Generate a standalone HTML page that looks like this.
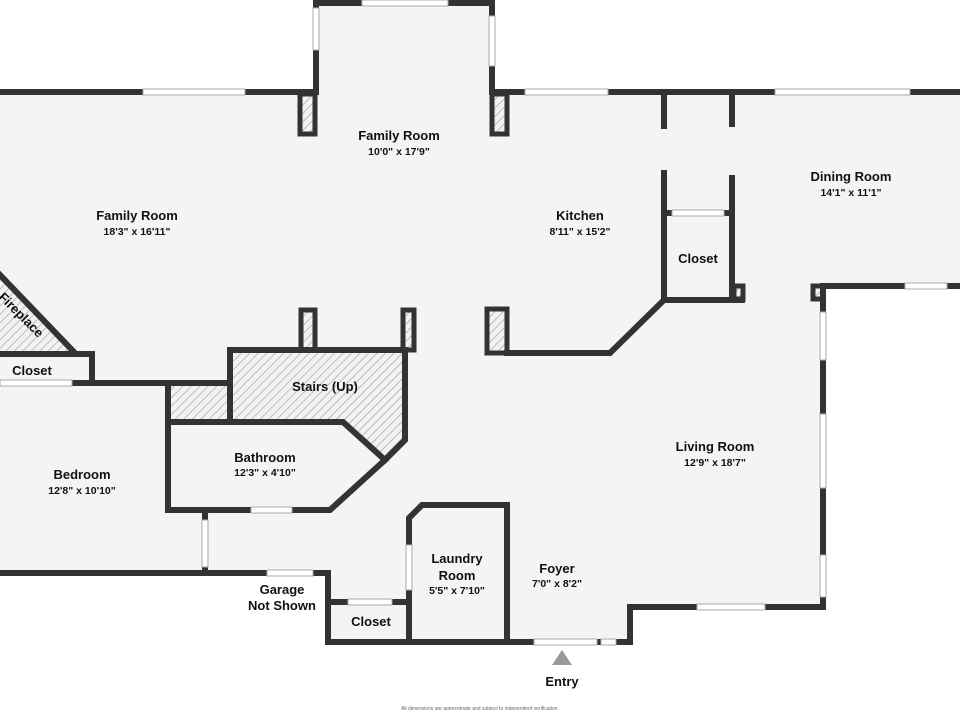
<!DOCTYPE html>
<html><head><style>
html,body{margin:0;padding:0;background:#fff;}
svg{display:block;}
text{font-family:"Liberation Sans","DejaVu Sans",sans-serif;fill:#111;text-anchor:middle;}
.l{font-size:13px;font-weight:bold;}
.d{font-size:10.5px;font-weight:bold;}
</style></head><body>
<svg width="960" height="710" viewBox="0 0 960 710" xmlns="http://www.w3.org/2000/svg">
<defs>
<pattern id="h" width="6" height="6" patternUnits="userSpaceOnUse" patternTransform="rotate(45)">
<rect width="6" height="6" fill="#f2f2f2"/><line x1="0" y1="0" x2="0" y2="6" stroke="#999" stroke-width="1.2"/>
</pattern>
</defs>
<rect width="960" height="710" fill="#fff"/>
<polygon points="0,92 314,92 314,2 494,2 494,92 960,92 960,286 822,286 822,607 630,607 630,642 328,642 328,573 0,573" fill="#f4f4f4"/>
<!-- hatched -->
<polygon points="0,275 74,352 0,352" fill="url(#h)"/>
<polygon points="230,350 405,350 405,440 385,460 343,422 230,422" fill="url(#h)"/>
<rect x="168" y="383" width="62" height="39" fill="url(#h)"/>
<g fill="url(#h)" stroke="#333" stroke-width="5">
<rect x="300" y="94" width="15" height="40"/>
<rect x="492" y="94" width="15" height="40"/>
<rect x="301" y="310" width="14" height="40"/>
<rect x="403" y="310" width="11" height="40"/>
<rect x="487" y="309" width="20" height="44"/>
<rect x="734" y="286" width="9" height="13"/>
<rect x="813" y="286" width="10" height="13"/>
</g>
<g stroke="#333" stroke-width="6" fill="none" stroke-linecap="square" stroke-linejoin="miter">
<!-- top bump -->
<polyline points="316,92 316,3 492,3 492,92"/>
<line x1="0" y1="92" x2="316" y2="92"/>
<line x1="492" y1="92" x2="960" y2="92"/>
<line x1="664" y1="92" x2="664" y2="126"/>
<line x1="732" y1="92" x2="732" y2="124"/>
<!-- closet kitchen -->
<polyline points="664,173 664,300 742,300"/>
<line x1="732" y1="178" x2="732" y2="300"/>
<line x1="664" y1="213" x2="732" y2="213"/>
<polyline points="507,353 610,353 664,300"/>
<!-- dining/living -->
<polyline points="960,286 823,286 823,607 630,607 630,642 328,642 328,573 0,573"/>
<!-- laundry -->
<polyline points="409,642 409,518 422,505 507,505 507,642"/>
<line x1="328" y1="602" x2="409" y2="602"/>
<!-- bedroom/bath -->
<line x1="205" y1="510" x2="205" y2="573"/>
<polyline points="0,354 92,354 92,383"/>
<line x1="72" y1="383" x2="230" y2="383"/>
<polyline points="168,383 168,510 330,510 385,460 343,422 168,422"/>
<polyline points="230,422 230,350 405,350 405,440 385,460"/>
<line x1="0" y1="275" x2="74" y2="352"/>
</g>
<!-- windows -->
<g fill="#fff" stroke="#aaa" stroke-width="1">
<rect x="143" y="89" width="102" height="6"/>
<rect x="362" y="0" width="86" height="6"/>
<rect x="313" y="8" width="6" height="42"/>
<rect x="489" y="16" width="6" height="50"/>
<rect x="525" y="89" width="83" height="6"/>
<rect x="775" y="89" width="135" height="6"/>
<rect x="672" y="210" width="52" height="6"/>
<rect x="905" y="283" width="42" height="6"/>
<rect x="820" y="312" width="6" height="48"/>
<rect x="820" y="414" width="6" height="74"/>
<rect x="820" y="555" width="6" height="42"/>
<rect x="697" y="604" width="68" height="6"/>
<rect x="534" y="639" width="63" height="6"/>
<rect x="601" y="639" width="15" height="6"/>
<rect x="348" y="599" width="44" height="6"/>
<rect x="406" y="545" width="6" height="45"/>
<rect x="267" y="570" width="46" height="6"/>
<rect x="251" y="507" width="41" height="6"/>
<rect x="202" y="520" width="6" height="47"/>
<rect x="0" y="380" width="72" height="6"/>
</g>
<polygon points="562,650 572,665 552,665" fill="#999"/>
<!-- labels -->
<text class="l" x="399" y="140">Family Room</text><text class="d" x="399" y="155">10'0" x 17'9"</text>
<text class="l" x="137" y="220">Family Room</text><text class="d" x="137" y="235">18'3" x 16'11"</text>
<text class="l" x="580" y="220">Kitchen</text><text class="d" x="580" y="235">8'11" x 15'2"</text>
<text class="l" x="851" y="181">Dining Room</text><text class="d" x="851" y="196">14'1" x 11'1"</text>
<text class="l" x="698" y="263">Closet</text>
<text class="l" x="32" y="375">Closet</text>
<text class="l" x="18" y="318" transform="rotate(45 18 318)">Fireplace</text>
<text class="l" x="325" y="391">Stairs (Up)</text>
<text class="l" x="265" y="462">Bathroom</text><text class="d" x="265" y="476">12'3" x 4'10"</text>
<text class="l" x="82" y="479">Bedroom</text><text class="d" x="82" y="494">12'8" x 10'10"</text>
<text class="l" x="715" y="451">Living Room</text><text class="d" x="715" y="466">12'9" x 18'7"</text>
<text class="l" x="457" y="563">Laundry</text><text class="l" x="457" y="580">Room</text><text class="d" x="457" y="594">5'5" x 7'10"</text>
<text class="l" x="557" y="573">Foyer</text><text class="d" x="557" y="587">7'0" x 8'2"</text>
<text class="l" x="282" y="594">Garage</text><text class="l" x="282" y="610">Not Shown</text>
<text class="l" x="371" y="626">Closet</text>
<text class="l" x="562" y="686">Entry</text>
<text x="480" y="710" style="font-size:5px;fill:#666">All dimensions are approximate and subject to independent verification.</text>
</svg>
</body></html>
